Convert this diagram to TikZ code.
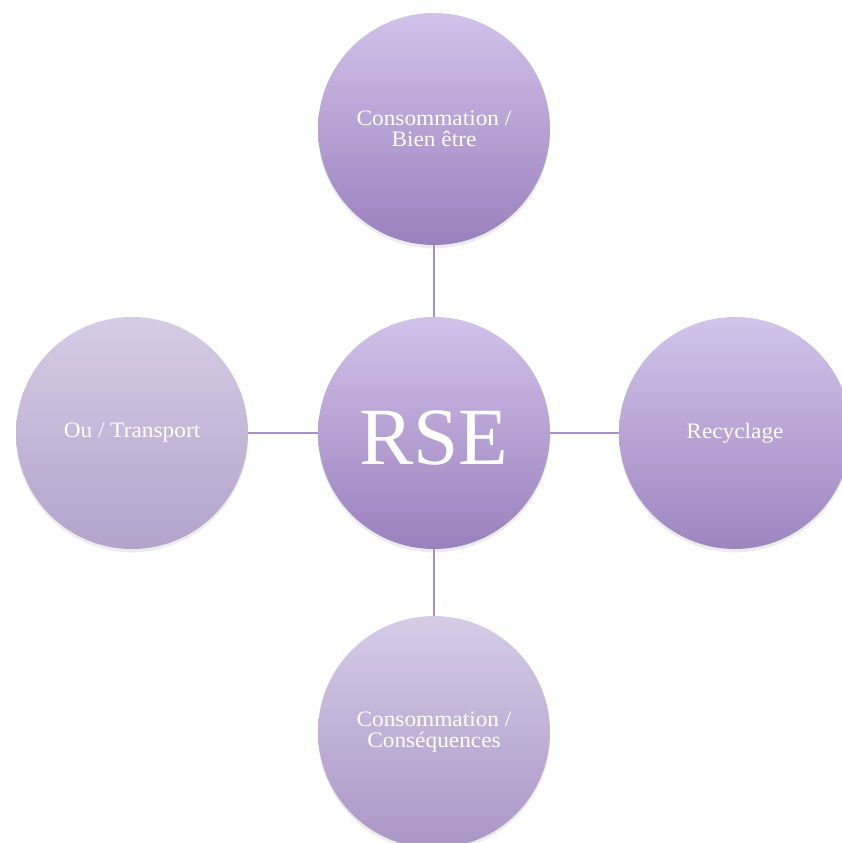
\documentclass[tikz,border=0pt]{standalone}
\usepackage{fontspec}
\setmainfont{Liberation Serif}[FakeStretch=1.06]
\newfontfamily\rsefont{Liberation Serif}
\usetikzlibrary{shadows}
\definecolor{linec}{HTML}{A692C6}
\definecolor{ctop}{HTML}{D2C2EA}
\definecolor{cbot}{HTML}{9A80BD}
\definecolor{ltop}{HTML}{D6CCE5}
\definecolor{lbot}{HTML}{B3A3CB}
\definecolor{btop}{HTML}{D6CCE7}
\definecolor{bbot}{HTML}{AA96C6}
\definecolor{rtop}{HTML}{D2C4EA}
\definecolor{rbot}{HTML}{9E85C0}
\tikzset{
  bubble/.style={circle, minimum size=174pt, inner sep=0pt, align=center,
    text=white, font=\fontsize{16.5pt}{15.5pt}\selectfont,
    drop shadow={opacity=0.15, shadow xshift=0pt, shadow yshift=-2.5pt}},
  link/.style={draw=linec, line width=1.1pt}
}
\begin{document}
\begin{tikzpicture}[x=0.75pt, y=-0.75pt]
\useasboundingbox (0,0) rectangle (842,843);
\clip (0,0) rectangle (842,843);
\node[bubble, top color=ctop, bottom color=cbot] (top) at (434,129) {Consommation /\\Bien être};
\node[bubble, top color=ltop, bottom color=lbot] (left) at (132,433) {Ou / Transport};
\node[bubble, top color=rtop, bottom color=rbot] (right) at (735,433) {Recyclage};
\node[bubble, top color=btop, bottom color=bbot] (bottom) at (434,732) {Consommation /\\Conséquences};
\node[bubble, top color=ctop, bottom color=cbot, font=\rsefont\fontsize{61pt}{61pt}\selectfont] (rse) at (434,433) {\raisebox{-4pt}[\height][\depth]{RSE}};
\draw[link] (top) -- (rse);
\draw[link] (rse) -- (bottom);
\draw[link] (left) -- (rse);
\draw[link] (rse) -- (right);
\end{tikzpicture}
\end{document}
